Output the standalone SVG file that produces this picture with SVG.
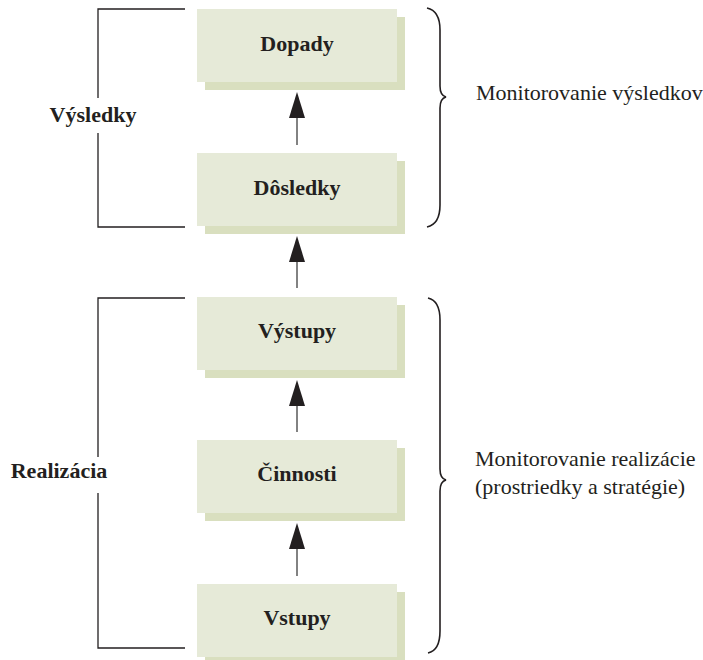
<svg xmlns="http://www.w3.org/2000/svg" width="703" height="660" viewBox="0 0 703 660">
<defs>
<style>
.front{fill:#e6ead8;}
.shadow{fill:#d9dfbf;}
.lbl{font-family:"Liberation Serif","Times New Roman",serif;font-weight:bold;font-size:22px;fill:#231f20;text-anchor:middle;}
.side{font-family:"Liberation Serif","Times New Roman",serif;font-size:22px;fill:#231f20;}
.brk{fill:none;stroke:#231f20;stroke-width:1.3;}
.brace{fill:none;stroke:#231f20;stroke-width:1.6;}
.conn{stroke:#4d4d4d;stroke-width:1.4;fill:none;}
.head{fill:#231f20;}
</style>
</defs>
<rect width="703" height="660" fill="#ffffff"/>

<g id="dopady">
<rect class="shadow" x="205" y="17" width="200" height="73"/>
<rect class="front" x="197" y="9" width="200" height="73"/>
<text class="lbl" x="297" y="51">Dopady</text>
</g>
<g id="dosledky">
<rect class="shadow" x="205" y="161" width="200" height="73"/>
<rect class="front" x="197" y="153" width="200" height="73"/>
<text class="lbl" x="297" y="195">Dôsledky</text>
</g>
<g id="vystupy">
<rect class="shadow" x="205" y="305" width="200" height="73"/>
<rect class="front" x="197" y="297" width="200" height="73"/>
<text class="lbl" x="297" y="338">Výstupy</text>
</g>
<g id="cinnosti">
<rect class="shadow" x="205" y="448" width="200" height="73"/>
<rect class="front" x="197" y="440" width="200" height="73"/>
<text class="lbl" x="297" y="481">Činnosti</text>
</g>
<g id="vstupy">
<rect class="shadow" x="205" y="592" width="200" height="73"/>
<rect class="front" x="197" y="584" width="200" height="73"/>
<text class="lbl" x="297" y="625">Vstupy</text>
</g>

<g id="connectors">
<line class="conn" x1="297" y1="145" x2="297" y2="116"/>
<polygon class="head" points="297,92 289,118 305,118"/>
<line class="conn" x1="297" y1="288" x2="297" y2="260"/>
<polygon class="head" points="297,236 289,262 305,262"/>
<line class="conn" x1="297" y1="432" x2="297" y2="404"/>
<polygon class="head" points="297,380 289,406 305,406"/>
<line class="conn" x1="297" y1="576" x2="297" y2="547"/>
<polygon class="head" points="297,523 289,549 305,549"/>
</g>

<g id="bracket-vysledky">
<path class="brk" d="M185,9 H98 V98 M98,133 V227 H185"/>
<text class="lbl" x="93" y="122">Výsledky</text>
</g>
<g id="bracket-realizacia">
<path class="brk" d="M185,298 H98 V457 M98,493 V648 H185"/>
<text class="lbl" x="59" y="478">Realizácia</text>
</g>

<g id="brace-vysledky">
<path class="brace" d="M427,8 C436,10 440,18 440,30 L440,86 C440,92 442,96 446,97 C442,98 440,102 440,108 L440,205 C440,217 436,225 427,227"/>
<text class="side" x="476" y="100">Monitorovanie výsledkov</text>
</g>
<g id="brace-realizacia">
<path class="brace" d="M428,298 C437,300 440,308 440,320 L440,469 C440,475 442,479 446,480 C442,481 440,485 440,491 L440,631 C440,643 437,651 428,653"/>
<text class="side" x="475" y="466">Monitorovanie realizácie</text>
<text class="side" x="475" y="494">(prostriedky a stratégie)</text>
</g>
</svg>
